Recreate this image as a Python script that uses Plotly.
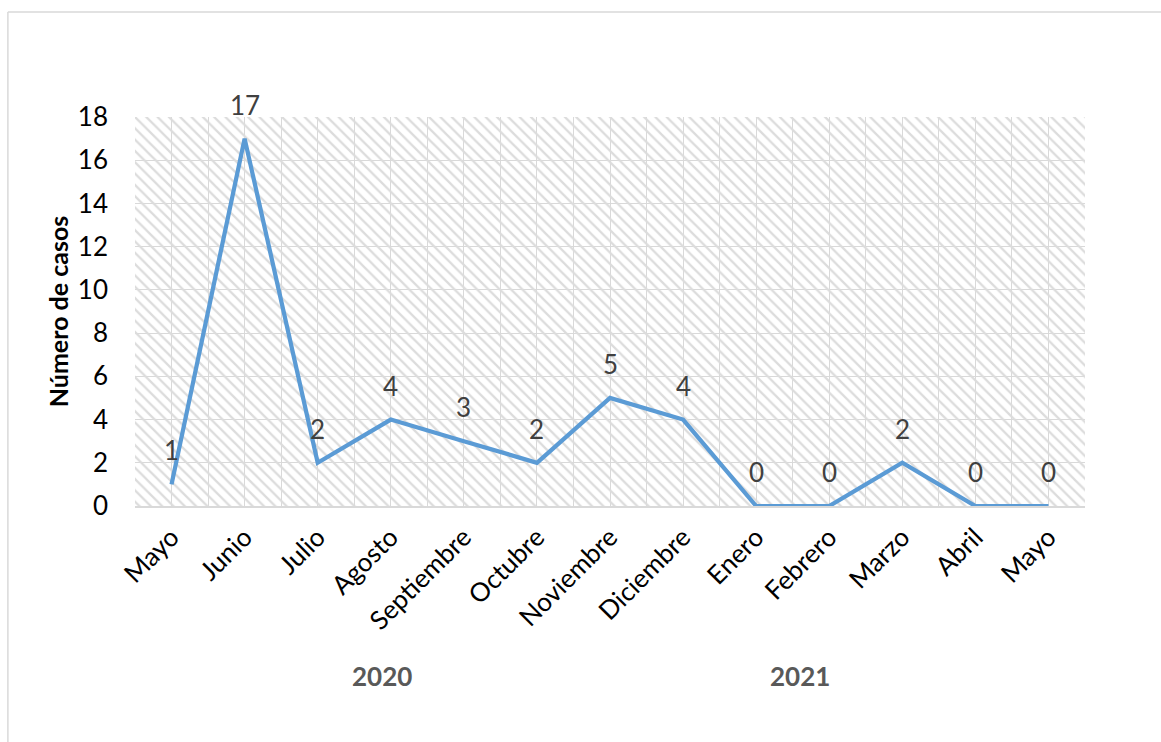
import plotly.graph_objects as go

months = ["Mayo", "Junio", "Julio", "Agosto", "Septiembre", "Octubre", "Noviembre",
          "Diciembre", "Enero", "Febrero", "Marzo", "Abril", "Mayo"]
cases = [1, 17, 2, 4, 3, 2, 5, 4, 0, 0, 2, 0, 0]
years = ["2020", "2021"]
year_label_x = [2.88, 8.6]   # where the group labels sit on the category axis
y_max = 18
y_step = 2

FONT = "Lato"
idx = list(range(len(months)))
n = len(months)

fig = go.Figure()

# hatched plot-area background (on hidden base axes)
fig.add_trace(go.Bar(
    x=[0.5], y=[1], width=[1], xaxis="x", yaxis="y",
    marker=dict(color="rgba(0,0,0,0)", line=dict(width=0),
                pattern=dict(shape="\\", fgcolor="#dcdcdc", bgcolor="rgba(0,0,0,0)",
                             size=8, solidity=0.28, fillmode="replace")),
    hoverinfo="skip", showlegend=False,
))

# data line
fig.add_trace(go.Scatter(
    x=idx, y=cases, xaxis="x2", yaxis="y2", mode="lines",
    line=dict(color="#5b9bd5", width=4.25),
    showlegend=False,
))

annotations = []
for i, v in zip(idx, cases):
    annotations.append(dict(
        x=i, y=v, xref="x2", yref="y2", text=str(v), showarrow=False,
        yshift=34, xanchor="center", yanchor="middle",
        font=dict(family=FONT, size=26, color="#404040"),
    ))
for yx, yl in zip(year_label_x, years):
    annotations.append(dict(
        x=yx, y=-0.437, xref="x2", yref="paper", text=f"<b>{yl}</b>", showarrow=False,
        xanchor="center", yanchor="middle",
        font=dict(family=FONT, size=26, color="#595959"),
    ))

fig.update_layout(
    width=1161, height=742,
    margin=dict(l=135, r=76, t=117, b=236, autoexpand=False),
    paper_bgcolor="white", plot_bgcolor="white",
    bargap=0,
    xaxis=dict(range=[0, 1], visible=False, fixedrange=True),
    yaxis=dict(range=[0, 1], visible=False, fixedrange=True),
    xaxis2=dict(
        overlaying="x", anchor="y2", range=[-0.5, n - 0.5],
        tickmode="array", tickvals=idx, ticktext=months, tickangle=-45,
        tickfont=dict(family=FONT, size=26, color="#000000"),
        showgrid=True, gridcolor="#d9d9d9", gridwidth=1,
        minor=dict(tickmode="linear", tick0=-0.5, dtick=1, showgrid=True,
                   gridcolor="#d9d9d9", gridwidth=1),
        showline=True, linecolor="#d9d9d9", linewidth=1.5,
        ticks="", zeroline=False, ticklabelstandoff=4,
    ),
    yaxis2=dict(
        overlaying="y", anchor="x2", range=[0, y_max], dtick=y_step, tick0=0,
        tickfont=dict(family=FONT, size=26, color="#000000"),
        showgrid=True, gridcolor="#d9d9d9", gridwidth=1,
        zeroline=False, showline=False, ticks="", ticklabelstandoff=26,
        title=dict(text="<b>Número de casos</b>", standoff=2,
                   font=dict(family=FONT, size=25, color="#000000")),
    ),
    annotations=annotations,
    shapes=[
        dict(type="line", xref="paper", yref="paper", x0=-0.1338, x1=-0.1338,
             y0=1.2699, y1=-0.7, line=dict(color="#d9d9d9", width=1.5)),
        dict(type="line", xref="paper", yref="paper", x0=-0.1338, x1=1.2,
             y0=1.2699, y1=1.2699, line=dict(color="#d9d9d9", width=1.5)),
    ],
)

fig.write_html("out.html")
